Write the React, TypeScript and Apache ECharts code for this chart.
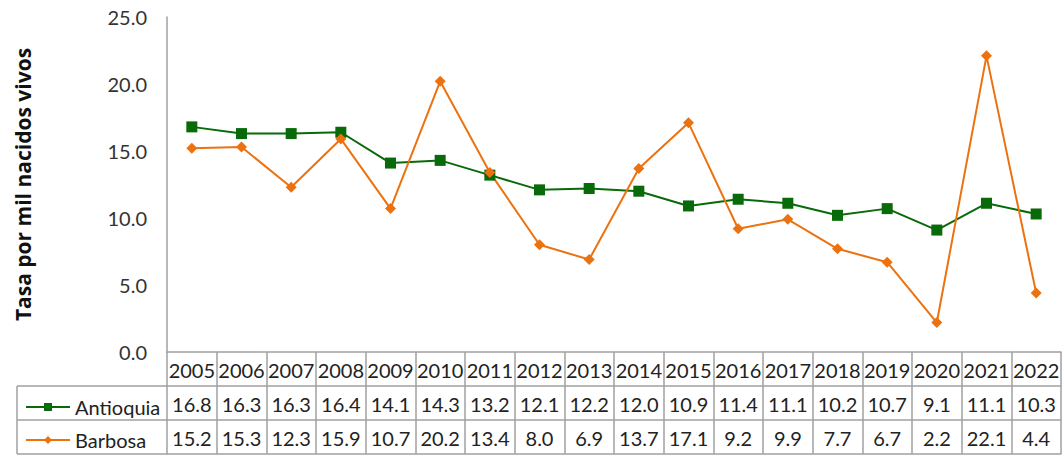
import React, { useEffect, useRef } from "react";
import * as echarts from "echarts";

const years = ["2005","2006","2007","2008","2009","2010","2011","2012","2013","2014","2015","2016","2017","2018","2019","2020","2021","2022"];
const antioquia = [16.8,16.3,16.3,16.4,14.1,14.3,13.2,12.1,12.2,12.0,10.9,11.4,11.1,10.2,10.7,9.1,11.1,10.3];
const barbosa = [15.2,15.3,12.3,15.9,10.7,20.2,13.4,8.0,6.9,13.7,17.1,9.2,9.9,7.7,6.7,2.2,22.1,4.4];
const seriesNames = ["Antioquia", "Barbosa"];
const yTicks = { min: 0, max: 25, interval: 5 };

const GREEN = "#086a08";
const ORANGE = "#ec7210";
const GRID = "#a0a0a0";
const FONT = "Lato";

export default function App() {
  const ref = useRef<HTMLDivElement>(null);
  useEffect(() => {
    if (!ref.current) return;
    const chart = echarts.init(ref.current, null, { renderer: "svg" });
    const left = 167, right = 2, top = 17, bottom = 105, rowH = 34;
    const tableBottom = 457 - bottom + 3 * rowH;
    const tableAxis = (data: string[], offset: number, showLabel: boolean) => ({
      type: "category",
      data,
      position: "bottom",
      offset,
      boundaryGap: true,
      axisLine: { show: true, lineStyle: { color: GRID, width: 1.5 } },
      axisTick: { show: showLabel, length: rowH, interval: 0, lineStyle: { color: GRID, width: 1.5 } },
      axisLabel: { show: showLabel, interval: 0, margin: 8, fontFamily: FONT, fontSize: 20, color: "#222" },
      splitLine: { show: false },
    });
    chart.setOption({
      animation: false,
      textStyle: { fontFamily: FONT },
      grid: { left, right, top, bottom },
      legend: {
        left: 20,
        top: 392,
        orient: "vertical",
        itemGap: 13,
        itemWidth: 44,
        itemHeight: 10,
        data: seriesNames,
        textStyle: { fontFamily: FONT, fontSize: 20, color: "#222" },
      },
      xAxis: [
        tableAxis(years, 0, true),
        tableAxis(antioquia.map((v) => v.toFixed(1)), rowH, true),
        tableAxis(barbosa.map((v) => v.toFixed(1)), rowH * 2, true),
        tableAxis(years.map(() => ""), rowH * 3, false),
      ],
      yAxis: {
        type: "value",
        min: yTicks.min,
        max: yTicks.max,
        interval: yTicks.interval,
        name: "Tasa por mil nacidos vivos",
        nameLocation: "middle",
        nameGap: 134,
        nameTextStyle: { fontFamily: "Open Sans", fontSize: 21, fontWeight: "bold", color: "#111" },
        axisLine: { show: true, lineStyle: { color: GRID, width: 1.5 } },
        axisTick: { show: false },
        splitLine: { show: false },
        axisLabel: {
          margin: 20,
          fontFamily: FONT,
          fontSize: 20,
          color: "#333",
          formatter: (v: number) => v.toFixed(1),
        },
      },
      graphic: [
        { type: "line", shape: { x1: 17, y1: 457 - bottom + rowH, x2: left, y2: 457 - bottom + rowH }, style: { stroke: GRID, lineWidth: 1.5 } },
        { type: "line", shape: { x1: 17, y1: 457 - bottom + 2 * rowH, x2: left, y2: 457 - bottom + 2 * rowH }, style: { stroke: GRID, lineWidth: 1.5 } },
        { type: "line", shape: { x1: 17, y1: tableBottom, x2: left, y2: tableBottom }, style: { stroke: GRID, lineWidth: 1.5 } },
        { type: "line", shape: { x1: 17, y1: 457 - bottom + rowH, x2: 17, y2: tableBottom }, style: { stroke: GRID, lineWidth: 1.5 } },
      ],
      series: [
        {
          name: seriesNames[0],
          type: "line",
          data: antioquia,
          symbol: "rect",
          symbolSize: 11,
          lineStyle: { color: GREEN, width: 2 },
          itemStyle: { color: GREEN },
        },
        {
          name: seriesNames[1],
          type: "line",
          data: barbosa,
          symbol: "diamond",
          symbolSize: 11,
          lineStyle: { color: ORANGE, width: 2 },
          itemStyle: { color: ORANGE },
        },
      ],
    });
    return () => chart.dispose();
  }, []);
  return <div ref={ref} style={{ width: 1063, height: 457, position: "absolute", left: 0, top: 0 }} />;
}
